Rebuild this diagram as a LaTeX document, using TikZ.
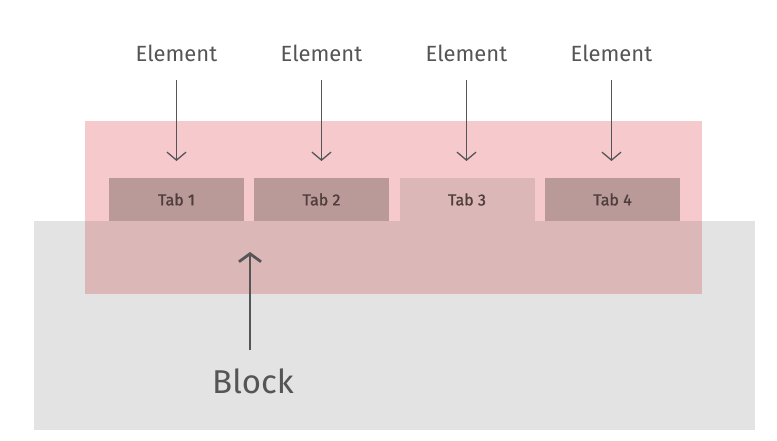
\documentclass[tikz,border=0pt]{standalone}
\usepackage{fontspec}
\setmainfont{Fira Sans}
\newfontfamily\tabfont{Fira Sans}[FakeBold=1.2]
\usetikzlibrary{arrows.meta}
\definecolor{pinkl}{RGB}{246,202,205}
\definecolor{pinkov}{RGB}{220,183,183}
\definecolor{tabdark}{RGB}{185,154,153}
\definecolor{grayb}{RGB}{227,227,227}
\definecolor{txt}{RGB}{85,85,85}
\definecolor{tabtxt}{RGB}{80,62,62}
\tikzset{
  x=1pt, y=-1pt,
  tabbox/.style={fill=tabdark, draw=none, minimum width=135pt, minimum height=43pt, inner sep=0pt, font=\tabfont\fontsize{16}{18}\selectfont, text=tabtxt},
  elem/.style={font=\fontsize{22}{26}\selectfont, text=txt, inner sep=1pt},
  elarrow/.style={draw=txt, line width=1.3pt, -{Straight Barb[length=8pt,width=19pt,line width=1.3pt]}},
  blarrow/.style={draw=txt, line width=2.8pt, -{Straight Barb[length=8pt,width=22pt,line width=2.8pt]}}
}
\begin{document}
\begin{tikzpicture}
\useasboundingbox (0,0) rectangle (777,441);
\fill[white] (0,0) rectangle (777,441);
\fill[grayb] (34,221) rectangle (755,430);
\fill[pinkl] (85,121) rectangle (702,221);
\fill[pinkov] (85,221) rectangle (702,294);
\node[tabbox] (t1) at (176.5,199.5) {Tab 1};
\node[tabbox] (t2) at (321.5,199.5) {Tab 2};
\node[tabbox, fill=pinkov] (t3) at (467,199.5) {Tab 3};
\node[tabbox] (t4) at (612.5,199.5) {Tab 4};
\node[elem] (e1) at (176.5,53) {Element};
\node[elem] (e2) at (321.5,53) {Element};
\node[elem] (e3) at (466.5,53) {Element};
\node[elem] (e4) at (611.5,53) {Element};
\coordinate (a1) at (176.5,161);
\coordinate (a2) at (321.5,161);
\coordinate (a3) at (466.5,161);
\coordinate (a4) at (611.5,161);
\draw[elarrow] (176.5,80) -- (a1);
\draw[elarrow] (321.5,80) -- (a2);
\draw[elarrow] (466.5,80) -- (a3);
\draw[elarrow] (611.5,80) -- (a4);
\node[font=\fontsize{33}{38}\selectfont, text=txt, inner sep=1pt] (blk) at (253,381) {Block};
\coordinate (ba) at (250,252);
\draw[blarrow] (250,350) -- (ba);
\end{tikzpicture}
\end{document}
